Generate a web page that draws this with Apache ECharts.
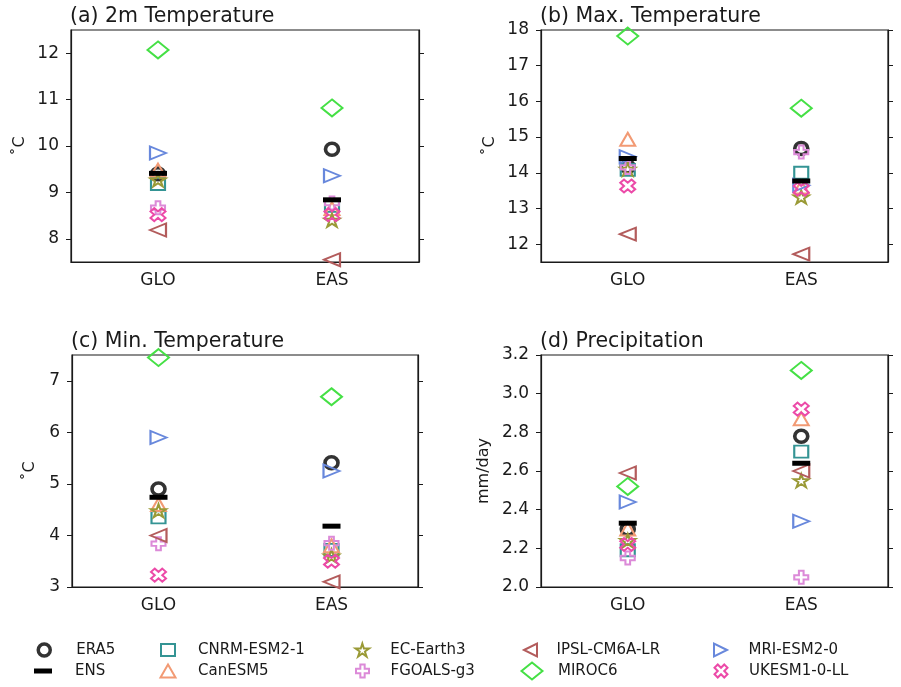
<!DOCTYPE html>
<html>
<head>
<meta charset="utf-8">
<script src="https://cdn.jsdelivr.net/npm/echarts@6/dist/echarts.min.js"></script>
<style>html,body{margin:0;padding:0;background:#fff;}#c{width:901px;height:687px;}</style>
</head>
<body>
<div id="c"></div>
<script>
const categories = ['GLO', 'EAS'];
const models = ['ERA5', 'CNRM-ESM2-1', 'CanESM5', 'EC-Earth3', 'FGOALS-g3', 'IPSL-CM6A-LR', 'MIROC6', 'MRI-ESM2-0', 'UKESM1-0-LL', 'ENS'];
// values in order of `models`
const tasGLO   = [9.40, 9.18, 9.48, 9.27, 8.67, 8.19, 12.07, 9.85, 8.52, 9.41];
const tasEAS   = [9.93, 8.71, 8.65, 8.40, 8.77, 7.55, 10.82, 9.36, 8.52, 8.84];
const tmaxGLO  = [14.17, 14.08, 14.94, 14.10, 14.15, 12.28, 17.83, 14.45, 13.63, 14.40];
const tmaxEAS  = [14.68, 14.00, 13.60, 13.32, 14.58, 11.72, 15.81, 13.65, 13.54, 13.77];
const tminGLO  = [4.90, 4.35, 4.60, 4.48, 3.84, 4.00, 7.45, 5.90, 3.23, 4.74];
const tminEAS  = [5.41, 3.72, 3.80, 3.60, 3.85, 3.10, 6.69, 5.25, 3.50, 4.18];
const prGLO    = [2.30, 2.19, 2.30, 2.24, 2.15, 2.59, 2.52, 2.44, 2.22, 2.33];
const prEAS    = [2.78, 2.70, 2.87, 2.55, 2.05, 2.60, 3.12, 2.34, 2.92, 2.64];
const panelTitles = ['(a) 2m Temperature', '(b) Max. Temperature', '(c) Min. Temperature', '(d) Precipitation'];
const panelUnits = ['˚C', '˚C', '˚C', 'mm/day'];
const yMin = [7.5, 11.5, 3, 2.0];
const yMax = [12.5, 18, 7.5, 3.2];
const tickA = [8, 9, 10, 11, 12];
const tickB = [12, 13, 14, 15, 16, 17, 18];
const tickC = [3, 4, 5, 6, 7];
const tickD = [2.0, 2.2, 2.4, 2.6, 2.8, 3.0, 3.2];
const legendOrder = ['ERA5', 'ENS', 'CNRM-ESM2-1', 'CanESM5', 'EC-Earth3', 'FGOALS-g3', 'IPSL-CM6A-LR', 'MIROC6', 'MRI-ESM2-0', 'UKESM1-0-LL'];

const panelData = [[tasGLO, tasEAS], [tmaxGLO, tmaxEAS], [tminGLO, tminEAS], [prGLO, prEAS]];
const panelTicks = [tickA, tickB, tickC, tickD];
const tickDecimals = [0, 0, 0, 1];

const FONT = 'DejaVu Sans';
const STAR = 'path://M0,-100L22,-31L95,-31L36,12L59,81L0,38L-59,81L-36,12L-95,-31L-22,-31Z';
const PLUS = 'path://M-1,-3L1,-3L1,-1L3,-1L3,1L1,1L1,3L-1,3L-1,1L-3,1L-3,-1L-1,-1Z';
const XMARK = 'path://M2,-4L4,-2L2,0L4,2L2,4L0,2L-2,4L-4,2L-2,0L-4,-2L-2,-4L0,-2Z';
const TRI_L = 'path://M0,50L100,0L100,100Z';
const TRI_R = 'path://M100,50L0,0L0,100Z';

const styles = {
  'ERA5':        {symbol: 'circle', size: [13, 12], color: '#333333', bw: 3.5},
  'ENS':         {symbol: 'rect', size: [18, 5], color: '#000000', filled: true},
  'CNRM-ESM2-1': {symbol: 'rect', size: [14, 12], color: '#349494', bw: 2},
  'CanESM5':     {symbol: 'triangle', size: [15, 13], color: '#f29a74', bw: 2},
  'EC-Earth3':   {symbol: STAR, size: [15, 13], color: '#9a9a36', bw: 2},
  'FGOALS-g3':   {symbol: PLUS, size: [14, 13], color: '#dc8ad8', bw: 2},
  'IPSL-CM6A-LR':{symbol: TRI_L, size: [16, 13], color: '#b35c5c', bw: 2},
  'MIROC6':      {symbol: 'diamond', size: [21, 17], color: '#45e045', bw: 2},
  'MRI-ESM2-0':  {symbol: TRI_R, size: [16, 13], color: '#6888dc', bw: 2},
  'UKESM1-0-LL': {symbol: XMARK, size: [15, 13], color: '#ec4aa8', bw: 2}
};

const grids = [
  {left: 71, top: 30, width: 348, height: 232},
  {left: 541, top: 30, width: 347, height: 232},
  {left: 72, top: 355, width: 346, height: 232},
  {left: 541, top: 355, width: 347, height: 232}
];
const nameGaps = [43, 43, 34, 49];

const option = {
  animation: false,
  backgroundColor: '#ffffff',
  textStyle: {fontFamily: FONT},
  title: panelTitles.map((t, i) => ({
    text: t, left: grids[i].left - 1, top: grids[i].top - 24, padding: 0,
    textStyle: {fontFamily: FONT, fontSize: 20.5, fontWeight: 'normal', color: '#1a1a1a'}
  })),
  grid: grids.map(g => Object.assign({show: true, borderColor: '#1a1a1a', borderWidth: 1.2, backgroundColor: 'transparent'}, g)),
  xAxis: grids.map((g, i) => ({
    type: 'category', gridIndex: i, data: categories, boundaryGap: true,
    axisLine: {lineStyle: {color: '#1a1a1a', width: 1.2}},
    axisTick: {alignWithLabel: true, length: 5, lineStyle: {color: '#1a1a1a'}},
    axisLabel: {fontFamily: FONT, fontSize: 17, color: '#1a1a1a', margin: 10},
    splitLine: {show: false}
  })),
  yAxis: [],
  legend: [],
  series: []
};

grids.forEach((g, i) => {
  const ticks = panelTicks[i];
  option.yAxis.push({
    type: 'value', gridIndex: i, position: 'left', min: yMin[i], max: yMax[i],
    name: panelUnits[i], nameLocation: 'middle', nameGap: nameGaps[i], nameRotate: 90,
    nameTextStyle: {fontFamily: FONT, fontSize: 16, color: '#1a1a1a'},
    axisLine: {show: true, lineStyle: {color: '#1a1a1a', width: 1.2}},
    axisTick: {show: true, length: 5, lineStyle: {color: '#1a1a1a'}, customValues: ticks},
    axisLabel: {fontFamily: FONT, fontSize: 17, color: '#1a1a1a', margin: 12, customValues: ticks,
      formatter: v => Number(v).toFixed(tickDecimals[i])},
    splitLine: {show: false}
  });
  option.yAxis.push({
    type: 'value', gridIndex: i, position: 'right', min: yMin[i], max: yMax[i],
    axisLine: {show: true, lineStyle: {color: '#1a1a1a', width: 1.2}},
    axisTick: {show: true, length: 5, lineStyle: {color: '#1a1a1a'}, customValues: ticks},
    axisLabel: {show: false, customValues: ticks},
    splitLine: {show: false}
  });
});

panelData.forEach((pd, p) => {
  models.forEach((m, k) => {
    const st = styles[m];
    option.series.push({
      name: m, type: 'scatter', xAxisIndex: p, yAxisIndex: 2 * p,
      symbol: st.symbol, symbolSize: st.size,
      itemStyle: st.filled ? {color: st.color, borderWidth: 0, opacity: 1}
                           : {color: 'rgba(255,255,255,0)', borderColor: st.color, borderWidth: st.bw, opacity: 1},
      emphasis: {disabled: true},
      data: categories.map((c, j) => [c, pd[j][k]])
    });
  });
});

// legend: 5 columns x 2 rows, one legend component per entry
const colMarkerX = [43, 167, 362, 531, 721];
const colTextX = [75, 197, 390, 557, 749];
const rowY = [650, 671];
legendOrder.forEach((name, idx) => {
  const col = Math.floor(idx / 2), row = idx % 2;
  const st = styles[name];
  const w = st.size[0], h = st.size[1];
  const left = colMarkerX[col] - w / 2;
  option.legend.push({
    orient: 'horizontal', left: left, top: rowY[row] - 10, padding: 0,
    itemWidth: w, itemHeight: h, selectedMode: false,
    itemStyle: st.filled ? {color: st.color, borderWidth: 0}
                         : {color: 'rgba(255,255,255,0)', borderColor: st.color, borderWidth: st.bw},
    data: [{name: name, icon: st.symbol}],
    textStyle: {fontFamily: FONT, fontSize: 15, lineHeight: 20, color: '#1a1a1a',
      padding: [0, 0, 0, colTextX[col] - left - w - 5]}
  });
});

const chart = echarts.init(document.getElementById('c'), null, {renderer: 'canvas'});
chart.setOption(option);
</script>
</body>
</html>
